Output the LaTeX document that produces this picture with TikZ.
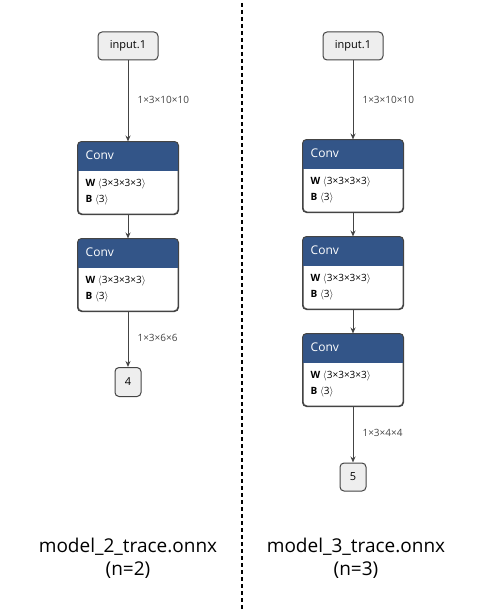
\documentclass[tikz,border=0pt]{standalone}
\usepackage{fontspec}
\setmainfont{Open Sans}
\usetikzlibrary{arrows.meta,calc}
\definecolor{convblue}{HTML}{335588}
\definecolor{nodegray}{HTML}{EEEEEE}
\definecolor{edgegray}{HTML}{444444}
\tikzset{
  io/.style={draw=edgegray, fill=nodegray, rounded corners=4pt, line width=1pt, inner sep=0pt, font=\fontsize{11}{13}\selectfont},
  convbox/.style={draw=edgegray, rounded corners=4pt, line width=1pt, minimum width=100pt, minimum height=72pt, inner sep=0pt},
  flow/.style={draw=edgegray, line width=1pt, -{Stealth[length=6pt,width=5pt]}},
  elabel/.style={font=\fontsize{10}{12}\selectfont, text=edgegray, anchor=west},
  title/.style={font=\fontsize{19}{23}\selectfont, text=black, align=center},
}
\newcommand{\convnode}[3]{%
  \node[convbox] (#1) at (#2,#3+36) {};
  \begin{scope}
    \clip[rounded corners=4pt] (#1.south west) rectangle (#1.north east);
    \fill[convblue] (#1.north west) rectangle ($(#1.north east)+(0,29)$);
  \end{scope}
  \draw[edgegray, line width=1pt, rounded corners=4pt] (#1.south west) rectangle (#1.north east);
  \node[anchor=west, text=white, font=\fontsize{12}{14}\selectfont, inner sep=0pt] (#1t) at ($(#1.north west)+(8,14)$) {Conv};
  \node[anchor=west, font=\fontsize{10}{12}\selectfont, inner sep=0pt] (#1w) at ($(#1.north west)+(8,42)$) {{\bfseries W} $\langle$3×3×3×3$\rangle$};
  \node[anchor=west, font=\fontsize{10}{12}\selectfont, inner sep=0pt] (#1b) at ($(#1.north west)+(8,58)$) {{\bfseries B} $\langle$3$\rangle$};
}
\begin{document}
\begin{tikzpicture}[x=1pt,y=-1pt]
\useasboundingbox (0,0) rectangle (500,610);
% left column
\node[io, minimum width=60pt, minimum height=28pt] (in1) at (128,46) {input.1};
\convnode{la}{128}{142}
\convnode{lb}{128}{239}
\node[io, minimum width=26pt, minimum height=29pt] (out4) at (128,382) {4};
\draw[flow] (in1) -- (la);
\draw[flow] (la) -- (lb);
\draw[flow] (lb) -- (out4);
\node[elabel] at (134,100) {1×3×10×10};
\node[elabel] at (134,338) {1×3×6×6};
% right column
\node[io, minimum width=60pt, minimum height=28pt] (in2) at (353,46) {input.1};
\convnode{ra}{353}{140}
\convnode{rb}{353}{237}
\convnode{rc}{353}{334}
\node[io, minimum width=26pt, minimum height=28pt] (out5) at (353,477) {5};
\draw[flow] (in2) -- (ra);
\draw[flow] (ra) -- (rb);
\draw[flow] (rb) -- (rc);
\draw[flow] (rc) -- (out5);
\node[elabel] at (359,100) {1×3×10×10};
\node[elabel] at (359,433) {1×3×4×4};
% divider
\draw[black, line width=1.2pt, dash pattern=on 4pt off 3pt] (242,3) -- (242,610);
% titles
\node[title] (t2) at (128,558) {model\_2\_trace.onnx\\(n=2)};
\node[title] (t3) at (356,558) {model\_3\_trace.onnx\\(n=3)};
\end{tikzpicture}
\end{document}
